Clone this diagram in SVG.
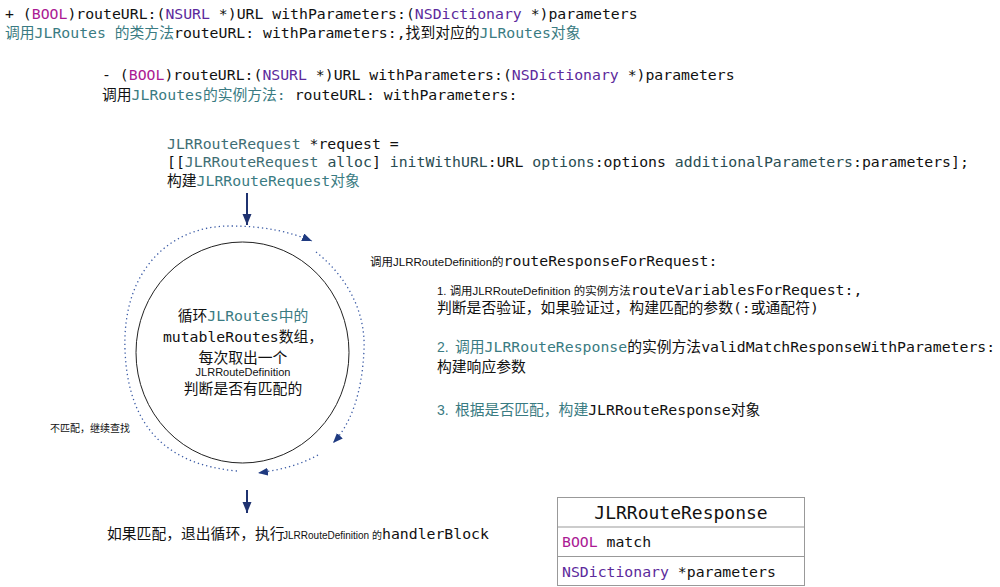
<svg xmlns="http://www.w3.org/2000/svg" width="1000" height="587" viewBox="0 0 1000 587">
<style>
.m{font-family:"DejaVu Sans Mono","Noto Sans CJK SC",monospace;font-size:14.8px;fill:#111}
.s{font-family:"Liberation Sans","Noto Sans CJK SC",sans-serif;font-size:11px;fill:#111}
.t{fill:#3a7b82}
.kw{fill:#ab1a94}
.cl{fill:#5c2a9c}
.pc{fill:#3f6e74}
.pm{fill:#2a4d52}
.solid{stroke:#1f3270;stroke-width:2;fill:none}
.dot{stroke:#3b5ba5;stroke-width:1.3;stroke-dasharray:1.3 3;fill:none}
</style>
<defs>
<marker id="ah" markerUnits="userSpaceOnUse" markerWidth="12" markerHeight="10" refX="11" refY="4.5" orient="auto">
<path d="M0,0 L11,4.5 L0,9 z" fill="#1f3270"/>
</marker>
<marker id="ahs" markerUnits="userSpaceOnUse" markerWidth="12" markerHeight="10" refX="10" refY="4" orient="auto">
<path d="M0,0 L10,4 L0,8 z" fill="#1f3a80"/>
</marker>
</defs>
<rect width="1000" height="587" fill="#fff"/>

<g id="class-method">
<text x="5" y="19" class="m">+ (<tspan class="kw">BOOL</tspan>)routeURL:(<tspan class="cl">NSURL</tspan> *)URL withParameters:(<tspan class="cl">NSDictionary</tspan> *)parameters</text>
<text x="5" y="38" class="m"><tspan class="t">调用JLRoutes 的类方法</tspan>routeURL: withParameters:,找到对应的<tspan class="t">JLRoutes对象</tspan></text>
</g>

<g id="instance-method">
<text x="102" y="80" class="m">- (<tspan class="kw">BOOL</tspan>)routeURL:(<tspan class="cl">NSURL</tspan> *)URL withParameters:(<tspan class="cl">NSDictionary</tspan> *)parameters</text>
<text x="102" y="100" class="m">调用<tspan class="t">JLRoutes的实例方法:</tspan> routeURL: withParameters:</text>
</g>

<g id="request">
<text x="167" y="149" class="m"><tspan class="pc">JLRRouteRequest</tspan> *request =</text>
<text x="167" y="167" class="m">[[<tspan class="pc">JLRRouteRequest</tspan> <tspan class="pm">alloc</tspan>] <tspan class="pm">initWithURL</tspan>:URL <tspan class="pm">options</tspan>:options <tspan class="pm">additionalParameters</tspan>:parameters];</text>
<text x="167" y="186" class="m">构建<tspan class="t">JLRRouteRequest对象</tspan></text>
</g>

<g id="loop">
<ellipse cx="242.5" cy="352.5" rx="106.5" ry="110.5" fill="none" stroke="#222" stroke-width="1"/>
<text x="243" y="321" class="m" text-anchor="middle">循环<tspan class="t">JLRoutes中的</tspan></text>
<text x="243" y="342" class="m" text-anchor="middle">mutableRoutes数组，</text>
<text x="243" y="363" class="m" text-anchor="middle">每次取出一个</text>
<text x="243" y="376" class="s" text-anchor="middle">JLRRouteDefinition</text>
<text x="243" y="394" class="m" text-anchor="middle">判断是否有匹配的</text>
</g>

<g id="no-match-label">
<text x="50" y="432" class="s" style="font-size:10px">不匹配，继续查找</text>
</g>

<g id="route-response">
<text x="370" y="266"><tspan class="s" style="font-size:11.5px">调用JLRRouteDefinition的</tspan><tspan class="m">routeResponseForRequest:</tspan></text>
<text x="437" y="295"><tspan class="s" style="font-size:11.4px">1. 调用JLRRouteDefinition 的实例方法</tspan><tspan class="m">routeVariablesForRequest:,</tspan></text>
<text x="437" y="313" class="m">判断是否验证，如果验证过，构建匹配的参数(:或通配符)</text>
<text x="437" y="352"><tspan class="s t" style="font-size:14px">2.</tspan><tspan x="455" class="m t">调用JLRRouteResponse</tspan><tspan class="m">的实例方法validMatchResponseWithParameters:</tspan></text>
<text x="437" y="372" class="m">构建响应参数</text>
<text x="437" y="415"><tspan class="s t" style="font-size:14px">3.</tspan><tspan x="455" class="m t">根据是否匹配，构建</tspan><tspan class="m">JLRRouteResponse对象</tspan></text>
</g>

<g id="match-exit">
<text x="107" y="539"><tspan class="m">如果匹配，退出循环，执行</tspan><tspan x="283" class="s" style="font-size:10px">JLRRouteDefinition</tspan><tspan x="372" class="s" style="font-size:10px">的</tspan><tspan x="382" class="m">handlerBlock</tspan></text>
</g>

<g id="response-class">
<rect x="557.5" y="497.5" width="247" height="88" fill="#fff" stroke="#999" stroke-width="1"/>
<line x1="557.5" y1="527" x2="804.5" y2="527" stroke="#999"/>
<line x1="557.5" y1="556.5" x2="804.5" y2="556.5" stroke="#999"/>
<text x="681" y="519" class="m" text-anchor="middle" style="font-size:18px">JLRRouteResponse</text>
<text x="562" y="547" class="m"><tspan class="kw">BOOL</tspan> match</text>
<text x="562" y="577" class="m"><tspan class="cl">NSDictionary</tspan> *parameters</text>
</g>

<g id="connectors">
<line x1="247" y1="193" x2="247" y2="225" class="solid" marker-end="url(#ah)"/>
<line x1="247" y1="490" x2="247" y2="513" class="solid" marker-end="url(#ah)"/>
<path d="M237,471 C170,465 128,430 125,350 C122,270 170,226 230,226 C265,226 290,232 312,241" class="dot" marker-end="url(#ahs)"/>
<path d="M316,252 C345,275 366,310 364,350 C362,395 350,425 333,443" class="dot" marker-end="url(#ahs)"/>
<path d="M318,455 C300,465 280,470 258,473" class="dot" marker-end="url(#ahs)"/>
</g>
</svg>
